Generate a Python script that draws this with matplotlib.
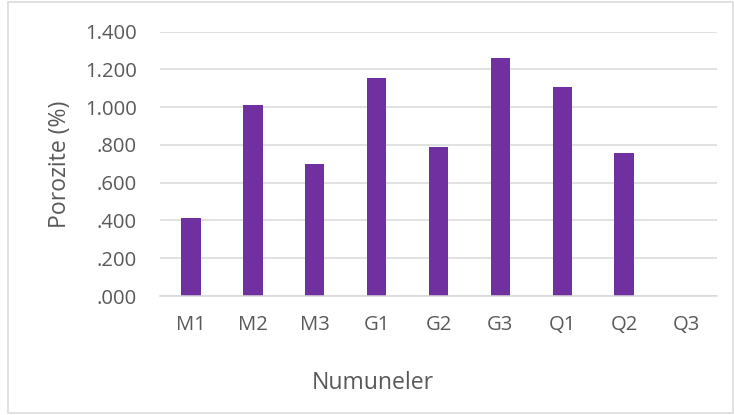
import matplotlib.pyplot as plt
from matplotlib.patches import Rectangle
from matplotlib.ticker import FuncFormatter

# veriler
numuneler = ["M1", "M2", "M3", "G1", "G2", "G3", "Q1", "Q2", "Q3"]
porozite = [0.414, 1.011, 0.701, 1.155, 0.787, 1.259, 1.106, 0.755, 0.0]
y_ticks = [0.0, 0.2, 0.4, 0.6, 0.8, 1.0, 1.2, 1.4]

plt.rcParams['font.family'] = ['Open Sans', 'DejaVu Sans']
gri = '#595959'

fig = plt.figure(figsize=(7.34, 4.15), dpi=100)
ax = fig.add_axes([160/734, 1 - 296/415, 557/734, 264.3/415])

x = range(len(numuneler))
ax.bar(x, porozite, width=0.315, color='#7030A0', zorder=3)

ax.set_xlim(-0.5, len(numuneler) - 0.5)
ax.set_ylim(0, 1.4)
ax.set_yticks(y_ticks)
ax.yaxis.set_major_formatter(FuncFormatter(lambda v, p: f"{v:.3f}".lstrip("0") if v < 1 else f"{v:.3f}"))
ax.set_xticks(list(x))
ax.set_xticklabels(numuneler)

# grid
ax.grid(True, axis='y', color='#D9D9D9', lw=1.1, zorder=0)
for s in ['top', 'right', 'left']:
    ax.spines[s].set_visible(False)
ax.spines['bottom'].set_color('#D9D9D9')
ax.spines['bottom'].set_linewidth(1.1)
ax.spines['bottom'].set_zorder(4)

ax.tick_params(axis='y', length=0, pad=16.5, labelsize=14.6, labelcolor=gri)
ax.tick_params(axis='x', length=0, pad=14, labelsize=14.6, labelcolor=gri)

ax.set_ylabel("Porozite (%)", fontsize=16.6, color=gri)
ax.yaxis.label.set_va('center')
ax.yaxis.set_label_coords(-100/557, 0.5)
ax.set_xlabel("Numuneler", fontsize=16.6, color=gri)
ax.xaxis.label.set_va('baseline')
ax.xaxis.set_label_coords((373 - 160)/557, -(389 - 296)/264.3)

# çerçeve
fig.patches.append(Rectangle((8/734, 1 - 413/415), 725/734, 410.5/415,
                             transform=fig.transFigure, fill=False,
                             edgecolor='#D9D9D9', lw=1.1))

fig.savefig("out.png", dpi=100)
